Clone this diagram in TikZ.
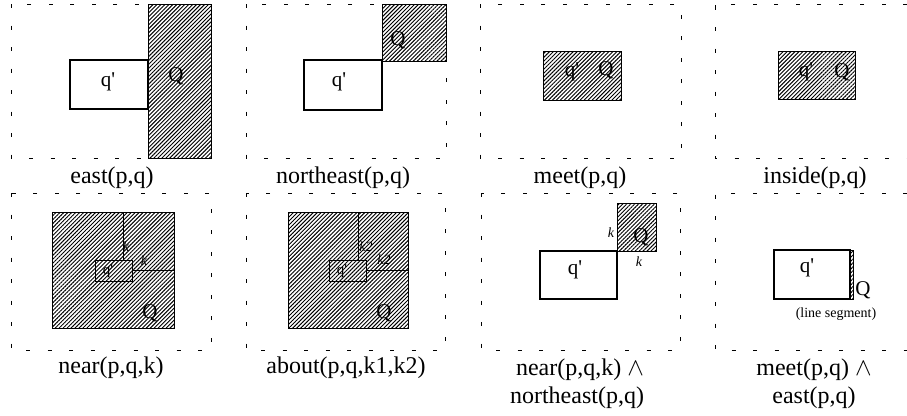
\documentclass[tikz,border=0pt]{standalone}
\usepackage{fontspec}
\setmainfont{Liberation Serif}
\usetikzlibrary{patterns.meta}
\tikzset{
  frame/.style={draw, line width=0.9pt, dash pattern=on 4pt off 17.5pt},
  rbox/.style={rectangle, inner sep=0pt, outer sep=0pt},
  hatch/.style={rbox, draw, line width=0.9pt, preaction={fill=white},
    pattern={Lines[angle=45,distance=2.8pt,line width=0.95pt]}},
  thickbox/.style={rbox, draw, line width=1.8pt},
  thinbox/.style={rbox, draw, line width=1.2pt},
  captxt/.style={font=\fontsize{24}{28}\selectfont, inner sep=0pt},
  lbl/.style={font=\fontsize{21}{21}\selectfont, inner sep=0pt},
  slbl/.style={font=\fontsize{15}{15}\selectfont, inner sep=0pt},
  klbl/.style={font=\fontsize{14}{14}\selectfont\itshape, inner sep=0pt},
  kline/.style={line width=1pt}
}
\newcommand{\qp}{q\textquotesingle}
\begin{document}
\begin{tikzpicture}[x=1pt,y=-1pt]
\useasboundingbox (0,0) rectangle (907,415);
% ---------- panel 1: east
\draw[frame] (11,4) rectangle (211,158);
\node[hatch, minimum width=63pt, minimum height=154pt] (Q1) at (179.5,81) {};
\node[thickbox, minimum width=78pt, minimum height=49pt] (q1) at (109,84.5) {};
\node[lbl] (q1t) at (108,82) {\qp};
\node[lbl] (Q1t) at (176,76) {Q};
\node[captxt] (c1) at (112,178) {east(p,q)};
% ---------- panel 2: northeast
\draw[frame] (246,4) rectangle (446,158);
\node[hatch, minimum width=64pt, minimum height=57pt] (Q2) at (414,32.5) {};
\node[thickbox, minimum width=78pt, minimum height=50pt] (q2) at (343,85) {};
\node[lbl] (q2t) at (339,82) {\qp};
\node[lbl] (Q2t) at (398,40) {Q};
\node[captxt] (c2) at (343,178) {northeast(p,q)};
% ---------- panel 3: meet
\draw[frame] (480,4) rectangle (681,158);
\node[hatch, minimum width=78pt, minimum height=49pt] (Q3) at (582,75.5) {};
\node[lbl] (q3t) at (572,72) {\qp};
\node[lbl] (Q3t) at (606,70) {Q};
\node[captxt] (c3) at (580,178) {meet(p,q)};
% ---------- panel 4: inside
\draw[frame] (907,4) -- (715,4) -- (715,158) -- (907,158);
\node[hatch, minimum width=77pt, minimum height=48pt] (Q4) at (816.5,75) {};
\node[lbl] (q4t) at (806,72) {\qp};
\node[lbl] (Q4t) at (842,72) {Q};
\node[captxt] (c4) at (815,178) {inside(p,q)};
% ---------- panel 5: near
\draw[frame] (11,193) rectangle (211,350);
\node[hatch, minimum width=122pt, minimum height=116pt] (Q5) at (113,270) {};
\node[hatch, line width=0.9pt, minimum width=37pt, minimum height=21pt] (q5) at (113.5,270.5) {};
\coordinate (k5a) at (123,212); \coordinate (k5b) at (123,260);
\coordinate (k5c) at (132,270); \coordinate (k5d) at (174,270);
\draw[kline] (k5a) -- (k5b);
\draw[kline] (k5c) -- (k5d);
\node[klbl] (k5t1) at (126,247) {k};
\node[klbl] (k5t2) at (144,261) {k};
\node[slbl] (q5t) at (108,271) {\qp};
\node[lbl] (Q5t) at (150,313) {Q};
\node[captxt] (c5) at (111,368) {near(p,q,k)};
% ---------- panel 6: about
\draw[frame] (246,193) rectangle (445,350);
\node[hatch, minimum width=120pt, minimum height=116pt] (Q6) at (348,270) {};
\node[hatch, line width=0.9pt, minimum width=37pt, minimum height=21pt] (q6) at (347.5,270.5) {};
\coordinate (k6a) at (358,212); \coordinate (k6b) at (358,260);
\coordinate (k6c) at (366,270); \coordinate (k6d) at (409,270);
\draw[kline] (k6a) -- (k6b);
\draw[kline] (k6c) -- (k6d);
\node[klbl] (k6t1) at (366,247) {k2};
\node[klbl] (k6t2) at (384,260) {k2};
\node[slbl] (q6t) at (342,271) {\qp};
\node[lbl] (Q6t) at (384,313) {Q};
\node[captxt] (c6) at (346,368) {about(p,q,k1,k2)};
% ---------- panel 7: near and northeast
\draw[frame] (481,193) rectangle (680,350);
\node[hatch, minimum width=39pt, minimum height=48pt] (Q7) at (636.5,227) {};
\node[thinbox, minimum width=77pt, minimum height=48pt] (q7) at (578.5,275) {};
\node[lbl] (q7t) at (575,270) {\qp};
\node[lbl] (Q7t) at (641,237) {Q};
\node[klbl] (k7t1) at (611,233) {k};
\node[klbl] (k7t2) at (639,262) {k};
\node[captxt] (c7a) at (580,370) {near(p,q,k) $\wedge$};
\node[captxt] (c7b) at (577,398) {northeast(p,q)};
% ---------- panel 8: meet and east
\draw[frame] (907,193) -- (715,193) -- (715,350) -- (907,350);
\node[rbox, draw, line width=1.5pt, minimum width=76pt, minimum height=49pt] (q8) at (812,274.5) {};
\node[hatch, line width=0.8pt, minimum width=3pt, minimum height=49pt] (Q8) at (851.5,274.5) {};
\node[lbl] (q8t) at (807,268) {\qp};
\node[lbl] (Q8t) at (863,290) {Q};
\node[slbl, font=\fontsize{14}{14}\selectfont] (ls) at (836,314) {(line segment)};
\node[captxt] (c8a) at (814,370) {meet(p,q) $\wedge$};
\node[captxt] (c8b) at (814,398) {east(p,q)};
\end{tikzpicture}
\end{document}
